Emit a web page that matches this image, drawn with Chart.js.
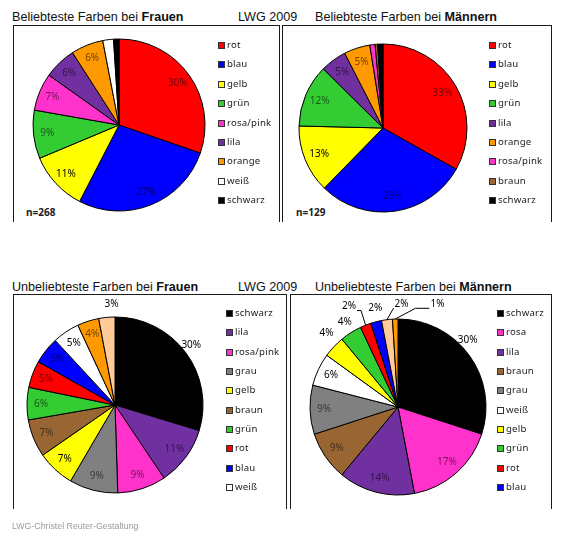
<!DOCTYPE html>
<html lang="de">
<head>
  <meta charset="UTF-8">
  <title>Beliebteste und unbeliebteste Farben – LWG 2009</title>
  <script src="https://cdn.jsdelivr.net/npm/chart.js@4.4.0/dist/chart.umd.min.js"></script>
  <style>
    body { margin: 0; background: #fff; }
    #page { position: relative; width: 566px; height: 551px; overflow: hidden;
            font-family: "Liberation Sans", Arial, sans-serif; }
    .title { position: absolute; font-size: 12.6px; color: #111; white-space: nowrap; line-height: 14px; }
    .box { position: absolute; border: 1.5px solid #1a1a1a; border-bottom: none; box-sizing: border-box; }
    .pie { position: absolute; }
    .legend-item { position: absolute; font-family: "Noto Sans", sans-serif; font-size: 9.6px;
                   color: #222; white-space: nowrap; line-height: 12px; }
    .legend-item span.sq { position: absolute; left: 0; top: 2px; width: 7px; height: 7px;
                           box-sizing: border-box; border: 1px solid #333; }
    .legend-item span.tx { position: absolute; left: 9px; top: -1px; letter-spacing: 0.2px; }
    .n { position: absolute; font-family: "Noto Sans", sans-serif; font-size: 10px; font-weight: bold; color: #222; }
    .footer { position: absolute; left: 12px; top: 521px; font-size: 8.8px; color: #9a9a9a; }
  </style>
</head>
<body>
<div id="page">
  <div class="title" style="left:12px; top:10px;">Beliebteste Farben bei <b>Frauen</b></div>
  <div class="title" style="left:238px; top:10px;">LWG 2009</div>
  <div class="title" style="left:315px; top:10px;">Beliebteste Farben bei <b>Männern</b></div>
  <div class="title" style="left:12px; top:280px;">Unbeliebteste Farben bei <b>Frauen</b></div>
  <div class="title" style="left:238px; top:280px;">LWG 2009</div>
  <div class="title" style="left:315px; top:280px;">Unbeliebteste Farben bei <b>Männern</b></div>

  <div class="box" style="left:13px; top:25px; width:267px; height:197px;"></div>
  <div class="box" style="left:282px; top:25px; width:270px; height:197px;"></div>
  <div class="box" style="left:13px; top:294px; width:274px; height:215px;"></div>
  <div class="box" style="left:290px; top:294px; width:262px; height:215px;"></div>

  <div class="n" style="left:26px; top:205px;">n=268</div>
  <div class="n" style="left:296px; top:205px;">n=129</div>

  <canvas id="topWomen" class="pie"></canvas>
  <canvas id="topMen" class="pie"></canvas>
  <canvas id="flopWomen" class="pie"></canvas>
  <canvas id="flopMen" class="pie"></canvas>

  <div class="footer">LWG-Christel Reuter-Gestaltung</div>
</div>

<script>
  // Beliebteste Farben (Prozent)
  const topWomenColors = ['rot', 'blau', 'gelb', 'grün', 'rosa/pink', 'lila', 'orange', 'weiß', 'schwarz'];
  const topWomenValues = [30, 27, 11, 9, 7, 6, 6, 2, 1];

  const topMenColors = ['rot', 'blau', 'gelb', 'grün', 'lila', 'orange', 'rosa/pink', 'braun', 'schwarz'];
  const topMenValues = [33, 29, 13, 12, 5, 5, 1, 0.5, 1];

  // Unbeliebteste Farben (Prozent) - die letzten zwei Stücke stehen nicht in der Legende
  const flopWomenColors = ['schwarz', 'lila', 'rosa/pink', 'grau', 'gelb', 'braun', 'grün', 'rot', 'blau', 'weiß', 'orange', 'apricot'];
  const flopWomenValues = [30, 11, 9, 9, 7, 7, 6, 5, 5, 5, 4, 3];

  const flopMenColors = ['schwarz', 'rosa', 'lila', 'braun', 'grau', 'weiß', 'gelb', 'grün', 'rot', 'blau', 'apricot', 'orange'];
  const flopMenValues = [30, 17, 14, 9, 9, 6, 4, 4, 2, 2, 2, 1];

  const palette = {
    'rot': '#ff0000', 'blau': '#0000ff', 'gelb': '#ffff00', 'grün': '#33cc33',
    'rosa/pink': '#ff33cc', 'rosa': '#ff33cc', 'lila': '#7030a0', 'orange': '#ff9900',
    'weiß': '#ffffff', 'schwarz': '#000000', 'braun': '#996633', 'grau': '#808080',
    'apricot': '#ffcc99'
  };

  // darker shade of the slice colour for the inside labels
  function labelColor(hex) {
    const r = parseInt(hex.substr(1, 2), 16), g = parseInt(hex.substr(3, 2), 16), b = parseInt(hex.substr(5, 2), 16);
    const lum = (0.2126 * r + 0.7152 * g + 0.0722 * b) / 255;
    if (lum > 0.7) return '#000';
    const k = 0.45;
    return 'rgb(' + Math.round(r * k) + ',' + Math.round(g * k) + ',' + Math.round(b * k) + ')';
  }

  const pctLabels = {
    id: 'pctLabels',
    afterDatasetsDraw(chart, args, opts) {
      const ctx = chart.ctx;
      const ds = chart.data.datasets[0];
      const meta = chart.getDatasetMeta(0);
      ctx.save();
      ctx.font = '10px "Noto Sans"';
      ctx.textAlign = 'center';
      ctx.textBaseline = 'middle';
      meta.data.forEach((arc, i) => {
        const v = ds.data[i];
        if (v < opts.min) return;
        const p = arc.getProps(['x', 'y', 'startAngle', 'endAngle', 'outerRadius'], true);
        const mid = (p.startAngle + p.endAngle) / 2;
        const o = (opts.place || {})[i];
        let ang = mid, rf = opts.radius;
        if (o) { ang = o[0] * Math.PI / 180 - Math.PI / 2; rf = o[1]; }
        const lx = p.x + Math.cos(ang) * p.outerRadius * rf;
        const ly = p.y + Math.sin(ang) * p.outerRadius * rf;
        const text = v + '%';
        if (o && o[2] !== undefined) {
          const w = ctx.measureText(text).width;
          const ax = p.x + Math.cos(mid) * p.outerRadius;
          const ay = p.y + Math.sin(mid) * p.outerRadius;
          const side = ax > lx ? 1 : -1;
          const ex = lx + side * (w / 2 + 1), ey = ly + 4;
          ctx.beginPath();
          ctx.moveTo(ex, ey);
          ctx.lineTo(ex + side * o[2], ey);
          ctx.lineTo(ax, ay);
          ctx.strokeStyle = '#000';
          ctx.lineWidth = 1;
          ctx.stroke();
        }
        ctx.fillStyle = rf > 1 ? '#000' : labelColor(ds.backgroundColor[i]);
        ctx.fillText(text, lx, ly);
      });
      ctx.restore();
    }
  };

  function makePie(id, names, values, cx, cy, r, labelOpts) {
    const size = 2 * (r + 40);
    const canvas = document.getElementById(id);
    canvas.width = size;
    canvas.height = size;
    canvas.style.left = (cx - size / 2) + 'px';
    canvas.style.top = (cy - size / 2) + 'px';
    canvas.style.width = size + 'px';
    canvas.style.height = size + 'px';
    new Chart(canvas.getContext('2d'), {
      type: 'pie',
      data: {
        labels: names,
        datasets: [{
          data: values,
          backgroundColor: names.map(n => palette[n]),
          borderColor: '#000',
          borderWidth: 1,
          radius: r
        }]
      },
      options: {
        responsive: false,
        animation: false,
        events: [],
        layout: { padding: 40 },
        plugins: {
          legend: { display: false },
          tooltip: { enabled: false },
          pctLabels: labelOpts
        }
      },
      plugins: [pctLabels]
    });
  }

  function makeLegend(names, count, x, y0, step) {
    const page = document.getElementById('page');
    names.slice(0, count).forEach((n, i) => {
      const item = document.createElement('div');
      item.className = 'legend-item';
      item.style.left = x + 'px';
      item.style.top = (y0 + i * step - 6) + 'px';
      item.innerHTML = '<span class="sq" style="background:' + palette[n] + '"></span><span class="tx">' + n + '</span>';
      page.appendChild(item);
    });
  }

  makePie('topWomen', topWomenColors, topWomenValues, 119, 125, 86, { min: 5, radius: 0.84 });
  makePie('topMen', topMenColors, topMenValues, 383, 128, 84, { min: 5, radius: 0.82 });
  makePie('flopWomen', flopWomenColors, flopWomenValues, 115, 405, 88, {
    min: 0, radius: 0.84,
    place: { 0: [52, 1.1], 11: [358, 1.15] }
  });
  makePie('flopMen', flopMenColors, flopMenValues, 398, 407, 88, {
    min: 0, radius: 0.84,
    place: { 0: [46, 1.1], 6: [316, 1.17], 7: [328, 1.14], 8: [334, 1.27, 4], 9: [347, 1.15],
             10: [2, 1.17, 0], 11: [21, 1.25, 14] }
  });

  makeLegend(topWomenColors, 9, 218, 46, 19.4);
  makeLegend(topMenColors, 9, 489, 46, 19.4);
  makeLegend(flopWomenColors, 10, 226, 314, 19.35);
  makeLegend(flopMenColors, 10, 497, 314, 19.35);
</script>
</body>
</html>
